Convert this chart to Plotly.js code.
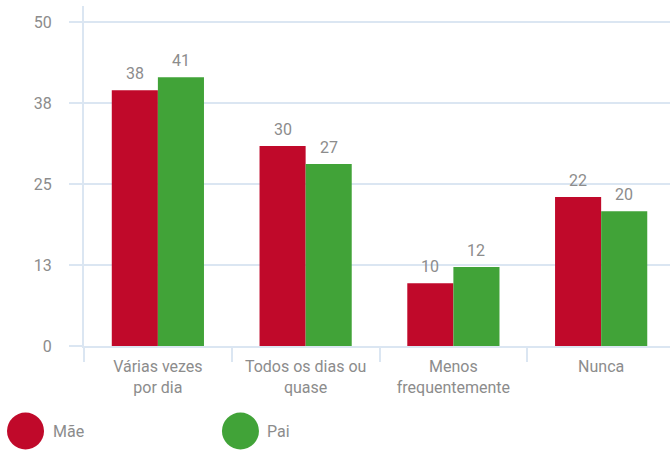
<!DOCTYPE html>
<html>
<head>
<meta charset="utf-8">
<script src="https://cdn.plot.ly/plotly-3.0.1.min.js"></script>
<style>html,body{margin:0;padding:0;overflow:hidden;background:#fff}</style>
</head>
<body>
<div id="chart" style="width:670px;height:450px"></div>
<script>
const categories = ["Várias vezes<br>por dia", "Todos os dias ou<br>quase", "Menos<br>frequentemente", "Nunca"];
const maeValues = [39.5, 30.9, 9.7, 23.0];
const paiValues = [41.5, 28.1, 12.2, 20.8];
const maeLabels = ["38", "30", "10", "22"];
const paiLabels = ["41", "27", "12", "20"];
const yTickVals = [0, 12.5, 25, 37.5, 50];
const yTickText = ["0", "13", "25", "38", "50"];
const seriesNames = ["Mãe", "Pai"];
const colors = ["#C0092A", "#41A338"];

const gray = "#8c8c8c";
const grid = "#dbe6f2";
const font = "Roboto, 'Open Sans', sans-serif";

const traces = [
  {type: "bar", name: seriesNames[0], x: categories, y: maeValues, marker: {color: colors[0]}, showlegend: false, hoverinfo: "none"},
  {type: "bar", name: seriesNames[1], x: categories, y: paiValues, marker: {color: colors[1]}, showlegend: false, hoverinfo: "none"}
];

const annotations = [];
categories.forEach((c, i) => {
  annotations.push({x: c, y: maeValues[i], text: maeLabels[i], showarrow: false, xshift: -23, yshift: 5, yanchor: "bottom", font: {family: font, size: 16, color: gray}});
  annotations.push({x: c, y: paiValues[i], text: paiLabels[i], showarrow: false, xshift: 23, yshift: 5, yanchor: "bottom", font: {family: font, size: 16, color: gray}});
});

// legend
const legendX = [-0.0998, 0.267];
const shapes = [];
seriesNames.forEach((n, i) => {
  shapes.push({type: "circle", xref: "paper", yref: "paper", xsizemode: "pixel", ysizemode: "pixel",
    xanchor: legendX[i], yanchor: -0.25, x0: -18.5, x1: 18.5, y0: -18.5, y1: 18.5,
    fillcolor: colors[i], line: {width: 0}});
  annotations.push({xref: "paper", yref: "paper", x: legendX[i], y: -0.25, xshift: 25, xanchor: "left", yanchor: "middle",
    text: n, showarrow: false, font: {family: font, size: 16, color: gray}});
});

const layout = {
  width: 670, height: 450,
  margin: {l: 84, r: 0, t: 6, b: 104},
  paper_bgcolor: "#fff", plot_bgcolor: "#fff",
  barmode: "group", bargap: 0.376, bargroupgap: 0,
  font: {family: font, color: gray, size: 16},
  xaxis: {
    type: "category", range: [-0.5, 3.466], fixedrange: true,
    showline: true, linecolor: grid, linewidth: 2,
    ticks: "outside", tickson: "boundaries", ticklen: 14, tickcolor: grid, tickwidth: 2,
    ticklabelstandoff: 5,
    showgrid: false, tickfont: {family: font, size: 16, color: gray}
  },
  yaxis: {
    range: [0, 52.5], fixedrange: true,
    tickvals: yTickVals, ticktext: yTickText,
    showgrid: true, gridcolor: grid, gridwidth: 2,
    zeroline: false,
    showline: true, linecolor: grid, linewidth: 2,
    ticks: "outside", ticklen: 13, tickcolor: grid, tickwidth: 2,
    ticklabelstandoff: 14,
    tickfont: {family: font, size: 16, color: gray}
  },
  annotations: annotations,
  shapes: shapes
};

Plotly.newPlot("chart", traces, layout, {displayModeBar: false, staticPlot: true});
</script>
</body>
</html>
